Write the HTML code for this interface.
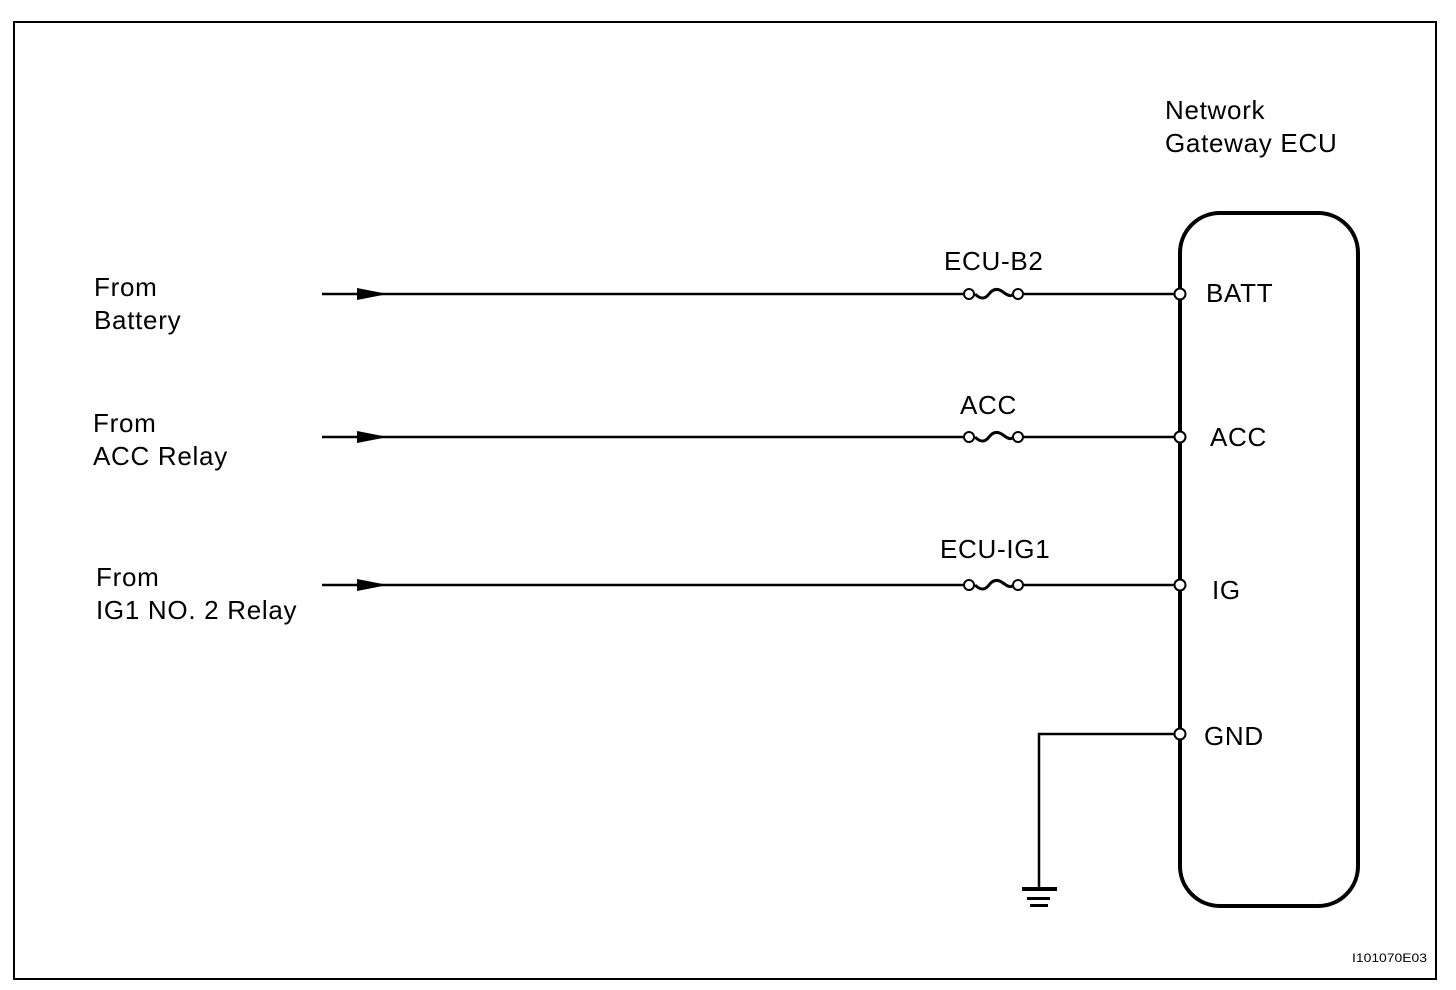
<!DOCTYPE html>
<html><head><style>body{margin:0;background:#fff}svg{display:block}text{font-family:"Liberation Sans",Arial,sans-serif;fill:#000}</style></head><body>
<svg width="1456" height="990" viewBox="0 0 1456 990" xmlns="http://www.w3.org/2000/svg">
<rect x="14" y="22" width="1422" height="957" fill="none" stroke="#000" stroke-width="2"/>
<rect x="1180" y="213" width="178" height="693" rx="40" fill="none" stroke="#000" stroke-width="4"/>
<g font-size="26" letter-spacing="0.7">
<text x="1165" y="119">Network</text><text x="1165" y="152">Gateway ECU</text>
<text x="94" y="296">From</text><text x="94" y="329">Battery</text>
<text x="93" y="432">From</text><text x="93" y="465">ACC Relay</text>
<text x="96" y="586">From</text><text x="96" y="619">IG1 NO. 2 Relay</text>
<text x="944" y="270">ECU-B2</text><text x="960" y="414">ACC</text><text x="940" y="558">ECU-IG1</text>
<text x="1206" y="302">BATT</text><text x="1210" y="446">ACC</text><text x="1212" y="599">IG</text><text x="1204" y="745">GND</text>
</g>
<text x="1352" y="962" font-size="12" textLength="75" lengthAdjust="spacingAndGlyphs">I101070E03</text>
<g stroke="#000" stroke-width="2.5" fill="none">
<path d="M322 294H964M1024 294H1174"/>
<path d="M322 437H964M1024 437H1174"/>
<path d="M322 585H964M1024 585H1174"/>
<path d="M1174 734H1039V889"/>
<path d="M975 294q8 8 14 0t14 -2 10 2" stroke-width="3"/>
<path d="M975 437q8 8 14 0t14 -2 10 2" stroke-width="3"/>
<path d="M975 585q8 8 14 0t14 -2 10 2" stroke-width="3"/>
</g>
<g stroke="#000" stroke-width="2" fill="#fff">
<circle cx="969" cy="294" r="5"/><circle cx="1018" cy="294" r="5"/>
<circle cx="969" cy="437" r="5"/><circle cx="1018" cy="437" r="5"/>
<circle cx="969" cy="585" r="5"/><circle cx="1018" cy="585" r="5"/>
<circle cx="1180" cy="294" r="5.5"/><circle cx="1180" cy="437" r="5.5"/><circle cx="1180" cy="585" r="5.5"/><circle cx="1180" cy="734" r="5.5"/>
</g>
<g fill="#000">
<path d="M357 288L388 294L357 300Z"/><path d="M357 431L388 437L357 443Z"/><path d="M357 579L388 585L357 591Z"/>
<rect x="1022" y="887" width="35" height="4"/><rect x="1027" y="897" width="23" height="3"/><rect x="1030" y="904" width="18" height="3"/>
</g>
</svg>
</body></html>
